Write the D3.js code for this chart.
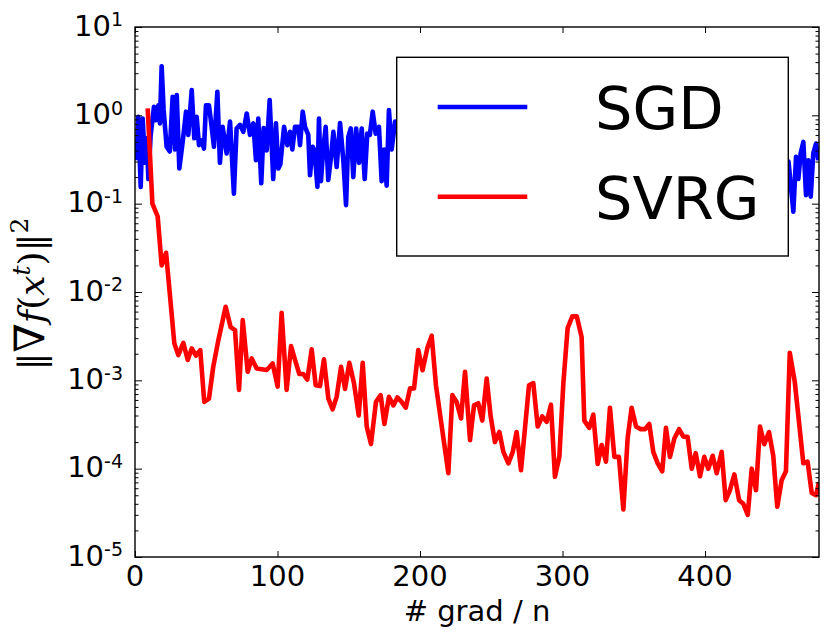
<!DOCTYPE html>
<html>
<head>
<meta charset="utf-8">
<script src="https://cdn.jsdelivr.net/npm/d3@7"></script>
<style>
  body { margin: 0; background: #fff; }
  text { font-family: "DejaVu Sans", sans-serif; fill: #000; }
</style>
</head>
<body>
<div id="chart"></div>
<script>
const xTicks = [0, 100, 200, 300, 400]
const yDecades = [1, 0, -1, -2, -3, -4, -5]
const seriesNames = ['SGD', 'SVRG']
const seriesColors = ['#0000ff', '#ff0000']

// SGD: the middle part is hidden by the legend box
const sgdX = [1.2, 2.3, 4.0, 5.4, 7.0, 8.2, 9.4, 11.0, 13.3, 14.7, 16.4, 17.5, 18.7, 20.1, 22.2, 24.4, 26.4, 28.1, 29.3, 31.1,
    32.8, 34.0, 35.8, 37.4, 39.8, 41.6, 43.3, 44.9, 46.8, 48.4, 49.8, 51.9, 53.8, 55.4, 57.8, 59.6, 61.5, 64.3, 66.7, 69.4,
    71.3, 73.7, 76.0, 78.4, 80.7, 83.0, 84.9, 86.5, 88.6, 90.3, 92.4, 94.5, 97.0, 98.9, 100.6, 102.0, 104.6, 106.9, 108.8, 110.4,
    112.3, 114.6, 115.8, 117.7, 119.3, 121.6, 122.8, 124.7, 126.0, 128.0, 129.1, 130.5, 132.1, 133.8, 135.6, 137.3, 139.2, 141.5, 143.9, 146.2,
    148.1, 149.7, 151.4, 153.2, 155.2, 157.2, 159.1, 161.2, 163.0, 164.8, 166.8, 168.9, 171.2, 173.1, 174.9, 176.6, 178.2, 180.1, 182.5, 183.6,
    458.6, 462.0, 463.9, 465.5, 467.1, 469.0, 470.9, 472.5, 474.2, 476.0, 477.9, 479.5]
const sgdY = [0.31, 0.96, 0.155, 0.92, 0.29, 0.55, 0.19, 0.6, 1.25, 0.88, 1.3, 0.81, 3.6, 1.15, 0.44, 0.39, 1.62, 0.41, 1.7, 0.25,
    0.41, 0.6, 1.1, 0.6, 1.93, 0.55, 0.96, 0.46, 0.52, 0.42, 1.3, 1.3, 0.74, 0.44, 1.85, 0.29, 0.74, 0.37, 0.85, 0.13,
    0.71, 0.78, 0.65, 1.05, 0.6, 0.81, 0.31, 0.92, 0.17, 0.72, 0.4, 1.49, 0.19, 0.81, 0.25, 0.28, 0.74, 0.46, 0.65, 0.41,
    0.74, 0.74, 0.46, 1.1, 0.74, 0.6, 0.21, 0.44, 0.4, 0.155, 0.92, 0.18, 0.41, 0.74, 0.185, 0.31, 0.65, 0.26, 0.82, 0.31,
    0.096, 0.57, 0.71, 0.2, 0.71, 0.29, 0.71, 0.19, 0.62, 0.6, 1.1, 0.62, 0.74, 0.18, 0.41, 0.16, 1.15, 0.41, 0.85, 0.7,
    0.3, 0.081, 0.34, 0.19, 0.37, 0.5, 0.125, 0.31, 0.12, 0.37, 0.48, 0.31]

const svrgX = [8.9, 12.2, 15.9, 18.7, 21.8, 27.6, 30.4, 33.9, 37.0, 39.8, 42.8, 45.8, 48.6, 51.9, 54.9, 58.5, 63.6, 67.1, 70.2, 73.0,
    75.6, 79.1, 81.9, 85.4, 92.4, 96.6, 100.1, 102.9, 106.4, 109.5, 112.3, 115.3, 118.1, 120.9, 124.0, 126.8, 129.8, 132.6, 135.7, 138.7,
    141.5, 144.6, 147.4, 150.4, 153.7, 157.0, 159.8, 162.6, 165.6, 169.1, 172.4, 175.0, 178.2, 181.3, 184.1, 187.1, 190.0, 193.0, 195.8, 198.8,
    201.8, 205.1, 208.2, 211.2, 219.9, 222.7, 225.7, 228.8, 231.6, 235.1, 237.9, 240.9, 243.7, 246.8, 249.6, 252.6, 255.7, 258.5, 262.0, 265.1,
    267.8, 270.9, 273.7, 276.5, 279.5, 282.6, 285.8, 288.9, 291.9, 294.7, 297.8, 300.6, 303.6, 306.9, 310.0, 313.4, 315.3, 318.8, 321.6, 324.7,
    327.5, 330.5, 333.3, 336.4, 339.6, 342.7, 345.7, 348.5, 351.6, 354.9, 357.9, 360.9, 363.7, 366.8, 370.0, 372.6, 375.4, 378.5, 381.8, 384.8,
    387.8, 390.7, 393.5, 396.5, 399.5, 402.3, 405.4, 408.2, 411.7, 414.5, 417.5, 420.6, 423.9, 426.9, 430.0, 432.8, 435.8, 438.6, 441.6, 444.9,
    447.9, 450.7, 453.8, 456.8, 459.5, 463.0, 466.2, 469.0, 472.0, 474.9, 477.9, 480.0]
const svrgY = [1.2, 0.1, 0.072, 0.020, 0.0278, 0.00262, 0.00193, 0.00266, 0.0017, 0.0023, 0.0019, 0.0022, 0.00057, 0.00062, 0.00142, 0.00285, 0.0068, 0.0040, 0.0037, 0.00078,
    0.0048, 0.00125, 0.00177, 0.00136, 0.00131, 0.00155, 0.00085, 0.0058, 0.00078, 0.00244, 0.0017, 0.00118, 0.00118, 0.00102, 0.00224, 0.00088, 0.00086, 0.00173, 0.00062, 0.00047,
    0.00065, 0.00142, 0.00080, 0.00158, 0.00092, 0.00040, 0.00158, 0.00030, 0.00019, 0.00057, 0.00068, 0.00032, 0.00065, 0.00052, 0.00064, 0.00057, 0.00049, 0.00081, 0.00081, 0.0022,
    0.0013, 0.0023, 0.0032, 0.00088, 0.000089, 0.00068, 0.00057, 0.00037, 0.00125, 0.00021, 0.00052, 0.00055, 0.00035, 0.00105, 0.00039, 0.00020, 0.00026, 0.000155, 0.000115, 0.000155,
    0.00026, 0.000096, 0.00029, 0.00088, 0.00093, 0.00030, 0.00039, 0.00034, 0.00053, 0.000081, 0.000136, 0.00093, 0.0039, 0.0053, 0.0053, 0.0031, 0.00035, 0.00029, 0.00041, 0.000113,
    0.000185, 0.00012, 0.00049, 0.000136, 0.000136, 0.0000345, 0.00022, 0.00049, 0.00030, 0.00028, 0.00028, 0.00032, 0.000155, 0.000115, 0.0000935, 0.00029, 0.000136, 0.00022, 0.00028, 0.00023,
    0.00023, 0.00010, 0.00015, 0.000082, 0.000136, 0.00010, 0.00014, 0.000089, 0.000155, 0.000044, 0.000057, 0.000086, 0.000044, 0.000040, 0.000030, 0.00010, 0.000057, 0.00030, 0.000189, 0.00026,
    0.00014, 0.000037, 0.000074, 0.0000935, 0.00205, 0.00096, 0.00031, 0.000115, 0.00012, 0.000053, 0.000050, 0.00007]

const width = 830, height = 641
const margin = {left: 135, top: 27, right: 11, bottom: 84}
const plotW = width - margin.left - margin.right
const plotH = height - margin.top - margin.bottom

const svg = d3.select('#chart').append('svg')
    .attr('width', width)
    .attr('height', height)

const xScale = d3.scaleLinear().domain([0, 480]).range([margin.left, margin.left + plotW])
const yScale = d3.scaleLog().domain([1e-5, 10]).range([margin.top + plotH, margin.top])

svg.append('clipPath').attr('id', 'plot-clip')
    .append('rect')
    .attr('x', margin.left).attr('y', margin.top)
    .attr('width', plotW).attr('height', plotH)

const line = d3.line().x(d => xScale(d[0])).y(d => yScale(d[1]))
const series = [d3.zip(sgdX, sgdY), d3.zip(svrgX, svrgY)]

svg.append('g').attr('clip-path', 'url(#plot-clip)')
    .selectAll('path.series')
    .data(series)
    .enter().append('path')
    .attr('class', 'series')
    .attr('d', line)
    .attr('fill', 'none')
    .attr('stroke', (d, i) => seriesColors[i])
    .attr('stroke-width', 4.6)
    .attr('stroke-linejoin', 'round')

// ticks point inward on all four sides
const minorTicks = []
for (let e = -5; e < 1; e++) {
    for (let m = 2; m < 10; m++) minorTicks.push(m * Math.pow(10, e))
}
const majorTicks = yDecades.map(e => Math.pow(10, e))

svg.append('g')
    .attr('transform', `translate(0, ${margin.top + plotH})`)
    .call(d3.axisBottom(xScale).tickValues(xTicks).tickSize(-6).tickFormat(''))
svg.append('g')
    .attr('transform', `translate(0, ${margin.top})`)
    .call(d3.axisTop(xScale).tickValues(xTicks).tickSize(-6).tickFormat(''))
svg.append('g')
    .attr('transform', `translate(${margin.left}, 0)`)
    .call(d3.axisLeft(yScale).tickValues(majorTicks).tickSize(-7).tickFormat(''))
svg.append('g')
    .attr('transform', `translate(${margin.left}, 0)`)
    .call(d3.axisLeft(yScale).tickValues(minorTicks).tickSize(-3.5).tickFormat(''))
svg.append('g')
    .attr('transform', `translate(${margin.left + plotW}, 0)`)
    .call(d3.axisRight(yScale).tickValues(majorTicks).tickSize(-7).tickFormat(''))
svg.append('g')
    .attr('transform', `translate(${margin.left + plotW}, 0)`)
    .call(d3.axisRight(yScale).tickValues(minorTicks).tickSize(-3.5).tickFormat(''))

svg.selectAll('.domain').remove()
svg.selectAll('.tick line').attr('stroke', '#000').attr('stroke-width', 1)

svg.append('rect')
    .attr('x', margin.left).attr('y', margin.top)
    .attr('width', plotW).attr('height', plotH)
    .attr('fill', 'none').attr('stroke', '#000').attr('stroke-width', 1.4)

svg.selectAll('text.xlabel')
    .data(xTicks)
    .enter().append('text')
    .attr('class', 'xlabel')
    .attr('x', d => xScale(d))
    .attr('y', margin.top + plotH + 29)
    .attr('text-anchor', 'middle')
    .style('font-size', '29px')
    .text(d => d)

const ylab = svg.selectAll('text.ylabel')
    .data(yDecades)
    .enter().append('text')
    .attr('class', 'ylabel')
    .attr('x', margin.left - 12)
    .attr('y', d => yScale(Math.pow(10, d)) + 8.7)
    .attr('text-anchor', 'end')
    .style('font-size', '29px')
ylab.append('tspan').text('10')
ylab.append('tspan').attr('dy', -9.5).style('font-size', '19px').text(d => d)

svg.append('text')
    .attr('x', xScale(240))
    .attr('y', 621)
    .attr('text-anchor', 'middle')
    .style('font-size', '29px')
    .text('# grad / n')

const yTitle = svg.append('text')
    .attr('transform', 'translate(44, 294) rotate(-90)')
    .attr('text-anchor', 'middle')
    .style('font-family', '"DejaVu Serif", serif')
    .style('font-size', '36px')
yTitle.append('tspan').text('‖')
yTitle.append('tspan').style('font-size', '42px').text('∇')
yTitle.append('tspan').style('font-style', 'italic').text('f')
yTitle.append('tspan').text('(')
yTitle.append('tspan').style('font-style', 'italic').text('x')
yTitle.append('tspan').attr('dy', -14).style('font-style', 'italic').style('font-size', '25px').text('t')
yTitle.append('tspan').attr('dy', 14).text(')‖')
yTitle.append('tspan').attr('dy', -16).style('font-size', '25px').text('2')

const legend = svg.append('g')
legend.append('rect')
    .attr('x', 396.7).attr('y', 57.3)
    .attr('width', 391.6).attr('height', 198.7)
    .attr('fill', '#fff').attr('stroke', '#000').attr('stroke-width', 1.4)
const legendItem = legend.selectAll('g.item')
    .data(seriesNames)
    .enter().append('g')
    .attr('class', 'item')
    .attr('transform', (d, i) => `translate(0, ${107 + i * 89.7})`)
legendItem.append('line')
    .attr('x1', 437.7).attr('x2', 527.3)
    .attr('stroke', (d, i) => seriesColors[i])
    .attr('stroke-width', 4.6)
legendItem.append('text')
    .attr('x', 595)
    .attr('y', 22.3)
    .style('font-size', '59px')
    .text(d => d)
</script>
</body>
</html>
